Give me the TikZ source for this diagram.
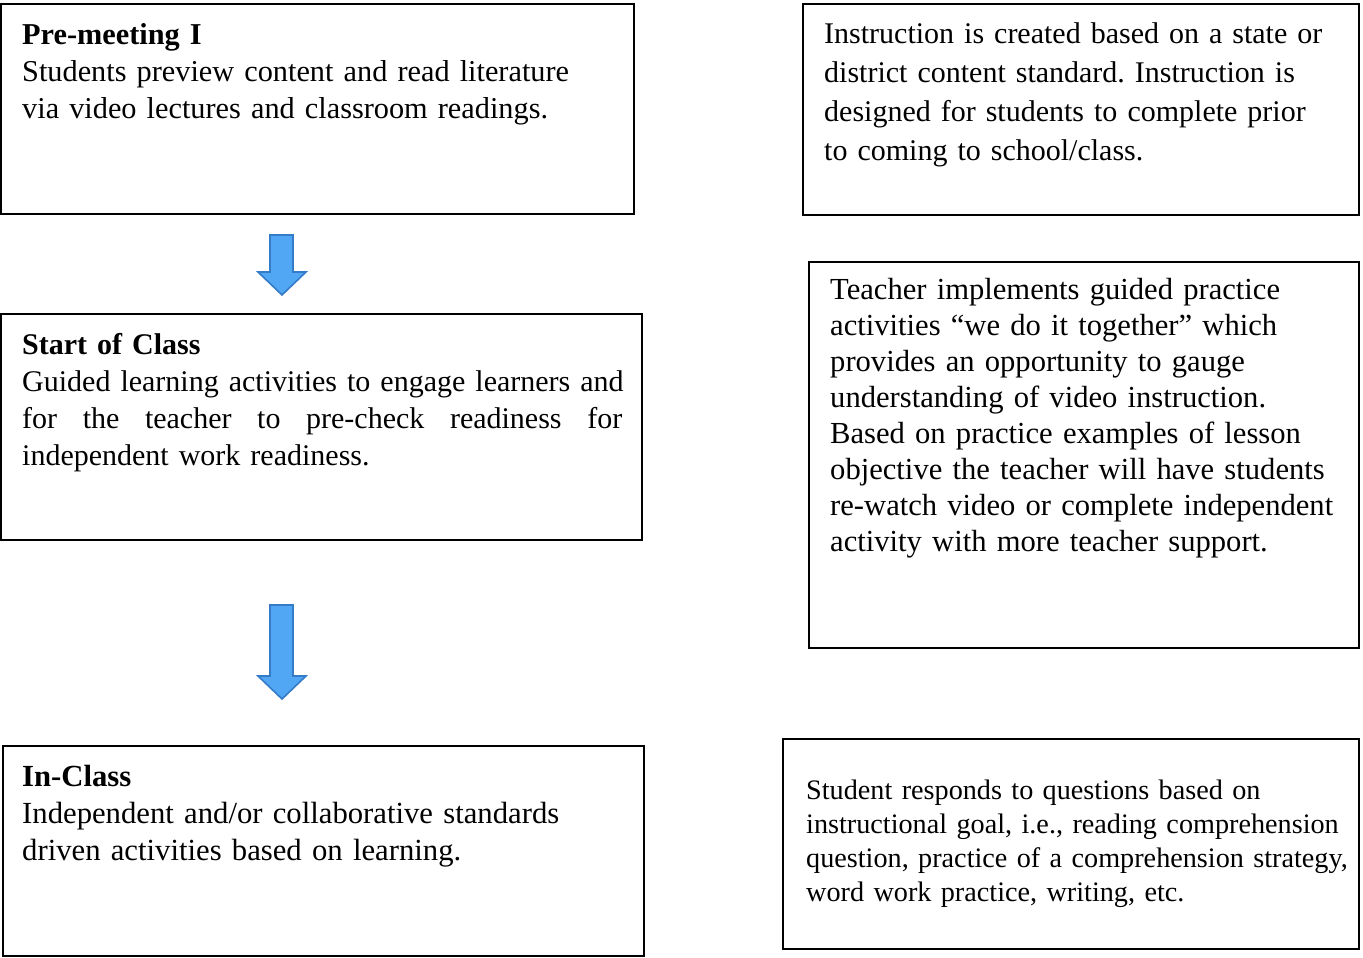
\documentclass[tikz,border=0pt]{standalone}
\usepackage{fontspec}
\setmainfont{Liberation Serif}
\usepackage{xcolor}
\usepackage{tikz}
\usetikzlibrary{positioning,calc}

\definecolor{arrowfill}{RGB}{82,167,245}
\definecolor{arrowedge}{RGB}{52,124,200}
\frenchspacing

\begin{document}
\begin{tikzpicture}[
    x=1pt, y=-1pt,
    stagebox/.style={draw, line width=1.8pt, inner sep=0pt, outer sep=0pt, anchor=north west},
    boxtext/.style={anchor=base west, inner sep=0pt, align=left,
                    font=\fontsize{30.3pt}{37pt}\selectfont},
    downarr/.style={fill=arrowfill, draw=arrowedge, line width=1.6pt, line join=miter}
]
\useasboundingbox (0,0) rectangle (1363,958);

% left column: the three stages
\node[stagebox, minimum width=633pt, minimum height=210pt] (premeet) at (1,4) {};
\node[stagebox, minimum width=641pt, minimum height=226pt,
      below=100pt of premeet.south west, anchor=north west] (startclass) {};
\node[stagebox, minimum width=641pt, minimum height=210pt,
      below=206pt of startclass.south west, anchor=north west, xshift=2pt] (inclass) {};

% right column: what happens in each stage
\node[stagebox, minimum width=556pt, minimum height=211pt,
      right=169pt of premeet.north east, anchor=north west] (prework) {};
\node[stagebox, minimum width=550pt, minimum height=386pt,
      below=47pt of prework.south west, anchor=north west, xshift=6pt] (guided) {};
\node[stagebox, minimum width=576pt, minimum height=210pt,
      below=91pt of guided.south west, anchor=north west, xshift=-26pt] (respond) {};

% texts
\node[boxtext, text width=640pt] (premeettxt) at ([xshift=21pt, yshift=-41pt]premeet.north west)
  {\textbf{Pre-meeting I}\\
   Students preview content and read literature\\
   via video lectures and classroom readings.};
\node[boxtext, text width=640pt, font=\fontsize{30pt}{37pt}\selectfont] (startclasstxt)
  at ([xshift=21pt, yshift=-40pt]startclass.north west)
  {\textbf{Start of Class}\\
   Guided learning activities to engage learners and\\
   \makebox[600pt][l]{for\hfill the\hfill teacher\hfill to\hfill pre-check\hfill readiness\hfill for}\\
   independent work readiness.};
\node[boxtext, text width=640pt, font=\fontsize{30.7pt}{37pt}\selectfont] (inclasstxt)
  at ([xshift=19pt, yshift=-40pt]inclass.north west)
  {\textbf{In-Class}\\
   Independent and/or collaborative standards\\
   driven activities based on learning.};

\node[boxtext, text width=540pt, font=\fontsize{30pt}{38.7pt}\selectfont] (preworktxt)
  at ([xshift=21pt, yshift=-40pt]prework.north west)
  {Instruction is created based on a state or\\
   district content standard. Instruction is\\
   designed for students to complete prior\\
   to coming to school/class.};
\node[boxtext, text width=530pt, font=\fontsize{30.6pt}{36pt}\selectfont] (guidedtxt)
  at ([xshift=21pt, yshift=-37pt]guided.north west)
  {Teacher implements guided practice\\
   activities “we do it together” which\\
   provides an opportunity to gauge\\
   understanding of video instruction.\\
   Based on practice examples of lesson\\
   objective the teacher will have students\\
   re-watch video or complete independent\\
   activity with more teacher support.};
\node[boxtext, text width=570pt, font=\fontsize{28.2pt}{34.3pt}\selectfont] (respondtxt)
  at ([xshift=23pt, yshift=-60pt]respond.north west)
  {Student responds to questions based on\\
   instructional goal, i.e., reading comprehension\\
   question, practice of a comprehension strategy,\\
   word work practice, writing, etc.};

% blue block arrows between the stages
\draw[downarr] (270,235) -- (293,235) -- (293,272) -- (306,272) -- (282,295)
  -- (258,272) -- (270,272) -- cycle;
\draw[downarr] (270,605) -- (293,605) -- (293,676) -- (306,676) -- (282,699)
  -- (258,676) -- (270,676) -- cycle;

\end{tikzpicture}
\end{document}
